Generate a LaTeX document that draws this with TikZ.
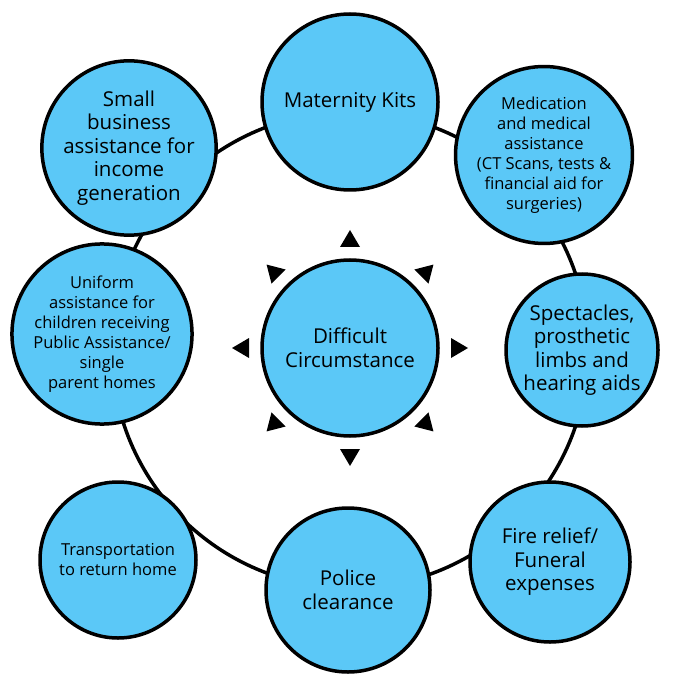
\documentclass[tikz,border=0pt]{standalone}
\usepackage{fontspec}
\setmainfont{Open Sans}
\usetikzlibrary{calc}
\begin{document}
\begin{tikzpicture}[x=1pt,y=-1pt,
  bub/.style={circle,draw=black,line width=3.5pt,fill=cyanfill,minimum size=#1*2pt,inner sep=0pt,align=center,font=\fontsize{20.5}{23.5}\selectfont},
  sm/.style={font=\fontsize{16.5}{20}\selectfont}]
\definecolor{cyanfill}{HTML}{5BC8F7}
\useasboundingbox (0,0) rectangle (700,700);
\draw[line width=3.5pt] (350,350) circle (238);
\node[bub=88] (c) at (350,348) {Difficult\\Circumstance};
\node[bub=88] (t) at (350,102) {Maternity Kits};
\node[bub=77,sm] (tr) at (544,155) {Medication\\and medical\\assistance\\(CT Scans, tests \&\\financial aid for\\surgeries)};
\node[bub=76] (r) at (582,350) {Spectacles,\\prosthetic\\limbs and\\hearing aids};
\node[bub=80] (br) at (550,562) {Fire relief/\\Funeral\\expenses};
\node[bub=82] (b) at (348,590) {Police\\clearance};
\node[bub=78,sm] (bl) at (118,560) {Transportation\\to return home};
\node[bub=88,sm] (l) at (102,334) {Uniform\\assistance for\\children receiving\\Public Assistance/\\single\\parent homes};
\node[bub=82] (tl) at (129,148) {Small\\business\\assistance for\\income\\generation};
\foreach \a in {0,45,...,315}{
  \fill ($(c.center)+(\a:101)+(\a+90:10)$) -- ($(c.center)+(\a:118)$) -- ($(c.center)+(\a:101)+(\a-90:10)$) -- cycle;}
\end{tikzpicture}
\end{document}
